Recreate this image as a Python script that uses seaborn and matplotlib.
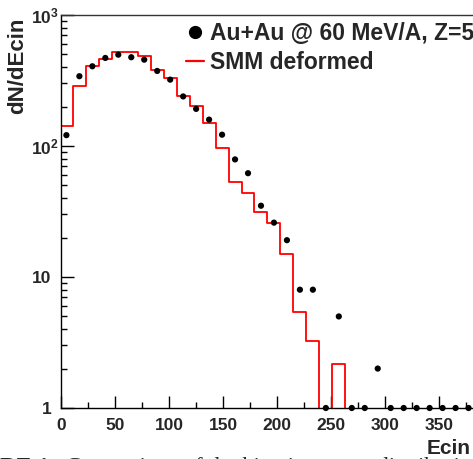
import numpy as np
import pandas as pd
import matplotlib
matplotlib.use("Agg")
import matplotlib.pyplot as plt
import matplotlib.transforms as mtransforms
from matplotlib.lines import Line2D
import seaborn as sns

# ---------------- data ----------------
# data points (bin centres, dN/dEcin)
ecin_pts = [5, 17, 29, 41, 53, 65, 77, 89, 101, 113, 125, 137, 149, 161, 173,
            185, 197, 209, 221, 233, 245, 257, 269, 281, 293, 305, 317, 329,
            341, 353, 365, 377]
dn_pts = [121, 341, 406, 470, 498, 476, 456, 374, 321, 239, 192, 159, 122, 79,
          62, 35, 26, 19.1, 8.0, 8.0, 1, 5.0, 1, 1, 2.0, 1, 1, 1, 1, 1, 1, 1]

# SMM histogram (bin edges and contents)
smm_edges = [-1, 11, 23, 35, 47, 59, 71, 83, 95, 107, 119, 131, 143, 155, 167,
             179, 191, 203, 215, 227, 239, 251, 263, 275, 287, 299, 311, 323,
             335, 347, 359, 371, 383, 395]
smm_vals = [142, 286, 410, 464, 525, 525, 484, 383, 329, 242, 201, 151, 97,
            53.4, 44, 31.2, 26.0, 15.1, 5.38, 3.23, 0, 2.15, 0, 0, 0, 0, 0, 0,
            0, 0, 0, 0, 0]

x_ticks = [0, 50, 100, 150, 200, 250, 300, 350]
y_ticks = [1, 10, 100, 1000]
y_ticklabels = ["1", "10", r"$10^{2}$", r"$10^{3}$"]

legend_labels = ["Au+Au @ 60 MeV/A, Z=5", "SMM deformed"]
x_title = "Ecin"
y_title = "dN/dEcin"

# ---------------- style ----------------
sns.set_theme(style="white")
plt.rcParams["font.family"] = ["Liberation Sans", "DejaVu Sans"]
plt.rcParams["font.weight"] = "bold"
plt.rcParams["mathtext.fontset"] = "custom"
plt.rcParams["mathtext.rm"] = "Liberation Sans:bold"
plt.rcParams["mathtext.bf"] = "Liberation Sans:bold"
plt.rcParams["mathtext.it"] = "Liberation Sans:bold"

W, H = 473, 459
fig = plt.figure(figsize=(W / 100, H / 100), dpi=100)
fig.patch.set_facecolor("white")

ax_left, ax_right, ax_top, ax_bot = 61, 480, 15, 408
ax = fig.add_axes([ax_left / W, (H - ax_bot) / H,
                   (ax_right - ax_left) / W, (ax_bot - ax_top) / H])
ax.set_facecolor("white")

px_per_unit = 1.081
xmax = (ax_right - ax_left) / px_per_unit

# histogram as steps
hist_df = pd.DataFrame({"edge": smm_edges,
                        "val": smm_vals + [smm_vals[-1]]})
sns.lineplot(data=hist_df, x="edge", y="val", drawstyle="steps-post",
             color="#ff0000", linewidth=1.3, ax=ax, sort=False,
             estimator=None)

pts_df = pd.DataFrame({"x": ecin_pts, "y": dn_pts})
sns.scatterplot(data=pts_df, x="x", y="y", color="black", s=20,
                edgecolor="none", ax=ax, clip_on=False, zorder=5)

ax.set_yscale("log")
ax.set_xlim(0, xmax)
ax.set_ylim(1, 1000)

ax.set_xlabel("")
ax.set_ylabel("")

# spines
ax.spines["right"].set_visible(False)
for s in ["left", "bottom", "top"]:
    ax.spines[s].set_visible(True)
    ax.spines[s].set_color("black")
    ax.spines[s].set_linewidth(1.0)
ax.spines["top"].set_color("#333333")

# ticks
ax.set_xticks(x_ticks)
ax.set_xticks(np.arange(25, xmax, 50), minor=True)
ax.set_yticks(y_ticks)
ax.set_yticklabels(y_ticklabels)
ax.yaxis.set_minor_locator(matplotlib.ticker.LogLocator(base=10, subs=np.arange(2, 10)))
ax.yaxis.set_minor_formatter(matplotlib.ticker.NullFormatter())
ax.tick_params(axis="both", which="both", direction="in", color="black",
               width=1.0, top=False, right=False, left=True, bottom=True)
ax.tick_params(axis="both", which="major", length=9, labelsize=12.5)
ax.tick_params(axis="both", which="minor", length=4.3)
ax.tick_params(axis="x", which="major", pad=7)
ax.tick_params(axis="y", which="major", pad=7)
for lab in ax.get_xticklabels() + ax.get_yticklabels():
    lab.set_fontweight("bold")
# shift labels carrying exponents so that the base "10" lines up
for lab in ax.get_yticklabels():
    if "^" in lab.get_text():
        lab.set_transform(lab.get_transform() +
                          mtransforms.ScaledTranslation(7 / 100, 0, fig.dpi_scale_trans))

# axis titles
fig.text(470.5 / W, 4.7 / H, x_title, ha="right", va="baseline",
         fontsize=15, fontweight="bold")
fig.text(18 / W, (H - 18) / H, y_title, ha="center", va="top",
         rotation=90, fontsize=16, fontweight="bold")

# legend
handles = [Line2D([], [], marker="o", color="black", linestyle="none",
                  markersize=8.5),
           Line2D([], [], color="#ff0000", linewidth=1.6)]
leg = fig.legend(handles, legend_labels, loc="upper left",
                 bbox_to_anchor=(186 / W, (H - 22) / H),
                 frameon=False, handlelength=0.8,
                 handletextpad=0.25, labelspacing=0.28, borderpad=0,
                 borderaxespad=0, prop={"weight": "bold", "size": 16.5})

# caption fragment at the bottom (cut off by the page)
fig.text(-57 / W, -14 / H, "FIGURE 1.", ha="left", va="baseline",
         fontsize=16.5, fontweight="bold", family=["Liberation Serif"])
fig.text(66 / W, -14 / H,
         "Comparison of the kinetic energy distributions of",
         ha="left", va="baseline", fontsize=16.5, fontweight="normal",
         family=["Liberation Serif"])

fig.savefig("out.png", dpi=100)
